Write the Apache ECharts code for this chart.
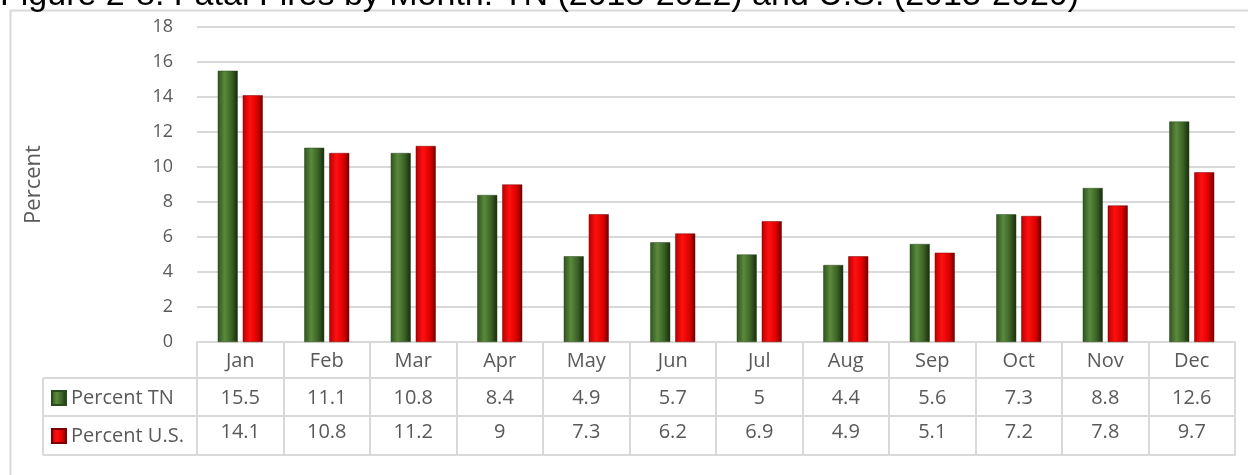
<!DOCTYPE html>
<html>
<head>
<meta charset="utf-8">
<script src="https://cdn.jsdelivr.net/npm/echarts@6/dist/echarts.min.js"></script>
<style>
  html, body { margin: 0; padding: 0; background: #fff; }
  #main { width: 1248px; height: 475px; }
</style>
</head>
<body>
<div id="main"></div>
<script>
const months = ['Jan', 'Feb', 'Mar', 'Apr', 'May', 'Jun', 'Jul', 'Aug', 'Sep', 'Oct', 'Nov', 'Dec']
const percentTN = [15.5, 11.1, 10.8, 8.4, 4.9, 5.7, 5, 4.4, 5.6, 7.3, 8.8, 12.6]
const percentUS = [14.1, 10.8, 11.2, 9, 7.3, 6.2, 6.9, 4.9, 5.1, 7.2, 7.8, 9.7]
const yTicks = [0, 2, 4, 6, 8, 10, 12, 14, 16, 18]

const FONT = 'Open Sans, Noto Sans, sans-serif'
const GRAY = '#595959'
const LINE = '#d9d9d9'

// 布局
const gridLeft = 197
const gridRight = 13
const gridTop = 27
const gridBottom = 133
const rowH = [36, 38, 39]    // 表格每行高度
const rowMargin = [10, 6, 0] // 每行文字的偏移
const tableLeft = 43

const chart = echarts.init(document.getElementById('main'))

const greenGrad = new echarts.graphic.LinearGradient(0, 0, 1, 0, [
  { offset: 0, color: '#2f5220' },
  { offset: 0.35, color: '#5b8a3b' },
  { offset: 0.7, color: '#3a6126' },
  { offset: 1, color: '#172a0c' }
])
const redGrad = new echarts.graphic.LinearGradient(0, 0, 1, 0, [
  { offset: 0, color: '#b80000' },
  { offset: 0.35, color: '#ff1010' },
  { offset: 0.7, color: '#e00000' },
  { offset: 1, color: '#6e0000' }
])

// 表格的行（额外的类目轴）
const rowValues = [percentTN.map(String), percentUS.map(String), months.map(() => '')]
let off = 0
const tableAxes = rowValues.map((vals, i) => {
  off += rowH[i]
  return {
    type: 'category',
    data: vals,
    position: 'bottom',
    offset: off,
    axisLine: { show: true, lineStyle: { color: LINE, width: 2 } },
    axisTick: { show: false },
    axisLabel: { color: GRAY, fontSize: 20, fontFamily: FONT, margin: rowMargin[i] }
  }
})

const plotBottom = 475 - gridBottom
const tableBottom = plotBottom + rowH[0] + rowH[1] + rowH[2]
const hLine = y => ({ type: 'line', shape: { x1: tableLeft, y1: y, x2: gridLeft, y2: y }, style: { stroke: LINE, lineWidth: 2 } })
const graphics = [
  { type: 'rect', shape: { x: 10.5, y: 10.5, width: 1400, height: 600 }, style: { fill: 'none', stroke: LINE, lineWidth: 2 }, silent: true },
  { type: 'text', left: 0, top: -21, style: { text: 'Figure 2-8. Fatal Fires by Month: TN (2013-2022) and U.S. (2013-2020)', fill: '#000', font: '34px "Liberation Sans", Arial, sans-serif' } },
  hLine(plotBottom + rowH[0]),
  hLine(plotBottom + rowH[0] + rowH[1]),
  hLine(tableBottom),
  { type: 'line', shape: { x1: tableLeft, y1: plotBottom + rowH[0], x2: tableLeft, y2: tableBottom }, style: { stroke: LINE, lineWidth: 2 } }
]

const option = {
  animation: false,
  textStyle: { fontFamily: FONT },
  graphic: graphics,
  legend: {
    orient: 'vertical',
    left: 46,
    top: 381,
    itemWidth: 14,
    itemHeight: 14,
    itemGap: 14,
    icon: 'rect',
    textStyle: { color: GRAY, fontSize: 20, lineHeight: 24, fontFamily: FONT, padding: [0, 0, 0, 0] },
    data: ['Percent TN', 'Percent U.S.']
  },
  grid: { left: gridLeft, right: gridRight, top: gridTop, bottom: gridBottom },
  xAxis: [
    {
      type: 'category',
      data: months,
      position: 'bottom',
      axisLine: { show: true, lineStyle: { color: LINE, width: 2 } },
      axisTick: { show: true, length: rowH[0] + rowH[1] + rowH[2], lineStyle: { color: LINE, width: 2 } },
      axisLabel: { color: GRAY, fontSize: 20, fontFamily: FONT, margin: 9 }
    },
    ...tableAxes
  ],
  yAxis: {
    type: 'value',
    min: yTicks[0],
    max: yTicks[yTicks.length - 1],
    interval: 2,
    name: 'Percent',
    nameLocation: 'middle',
    nameGap: 152,
    nameTextStyle: { color: GRAY, fontSize: 22, fontFamily: FONT },
    axisLine: { show: false },
    axisTick: { show: false },
    axisLabel: { color: GRAY, fontSize: 18, fontFamily: FONT, margin: 24 },
    splitLine: { lineStyle: { color: LINE, width: 2 } }
  },
  series: [
    {
      name: 'Percent TN',
      type: 'bar',
      barWidth: 20,
      barGap: '25%',
      data: percentTN,
      itemStyle: { color: greenGrad, borderColor: '#2a4a1a', borderWidth: 0.5 }
    },
    {
      name: 'Percent U.S.',
      type: 'bar',
      barWidth: 20,
      data: percentUS,
      itemStyle: { color: redGrad, borderColor: '#7a0000', borderWidth: 0.5 }
    }
  ]
}
chart.setOption(option)
</script>
</body>
</html>
